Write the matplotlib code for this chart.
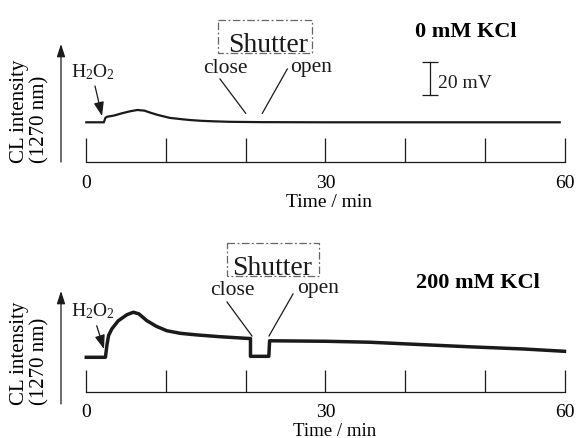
import matplotlib
matplotlib.use('Agg')
import matplotlib.pyplot as plt
import matplotlib.transforms as mtransforms
from matplotlib.patches import Rectangle
from matplotlib.lines import Line2D

# ---------------- data ----------------
major_ticks = [0, 30, 60]
minor_ticks = [10, 20, 40, 50]
panel_titles = ['0 mM KCl', '200 mM KCl']
x_label = 'Time / min'
y_label = 'CL intensity\n(1270 nm)'
scale_bar_mV = 20

# 0 mM KCl trace (time / min, CL signal / mV above baseline)
t_0mM = [0, 2.2, 2.4, 2.6, 3.5, 4.5, 5.5, 6.4, 7.3, 8.0, 9.0, 10.5,
         12.0, 13.0, 14.5, 16.0, 18.0, 20.0, 22.0, 30.0, 40.0, 50.0, 59.4]
cl_0mM = [0, 0, 2.8, 3.4, 4.2, 5.6, 6.8, 7.6, 7.2, 6.0, 4.5, 2.7,
          1.9, 1.4, 0.9, 0.6, 0.3, 0.2, 0.1, 0.0, 0.0, 0.0, 0.0]

# 200 mM KCl trace
t_200mM = [0, 2.4, 2.6, 2.8, 3.2, 4.0, 5.1, 5.9, 6.6, 7.6, 8.8, 10.1,
           11.8, 13.9, 16.8, 20.1, 20.6, 20.6, 22.9, 23.0, 30.0, 35.6,
           40.0, 48.0, 55.0, 60.0]
cl_200mM = [0, 0, 8.0, 13.5, 17.5, 22.5, 26.3, 27.8, 26.8, 22.6, 19.1, 16.4,
            14.8, 13.8, 12.7, 11.7, 11.6, 0.6, 0.6, 10.2, 9.9, 9.3,
            8.3, 6.5, 5.1, 3.7]

# ---------------- style / layout ----------------
W, H = 578, 439
plt.rcParams['font.family'] = ['Liberation Serif', 'DejaVu Serif']
plt.rcParams['mathtext.fontset'] = 'custom'
plt.rcParams['mathtext.rm'] = 'Liberation Serif'
plt.rcParams['mathtext.it'] = 'Liberation Serif:italic'

fig = plt.figure(figsize=(W / 100, H / 100), dpi=100)
pix = mtransforms.Affine2D().scale(1 / W, -1 / H).translate(0, 1) + fig.transFigure

px_per_min = 7.97
px_per_mV = 1.62
x0_px = 86.3
xlim = (-x0_px / px_per_min, (W - x0_px) / px_per_min)

ink = '#1a1a1a'

panels = [
    dict(t=t_0mM, v=cl_0mM, top=0, axis=163.0, base=123.3, lw=1.6, ticklen=17.3,
         arrow=(163, 45), ylab_y=163, title=(466, 37), shutter_txt=(268, 51.7),
         box=(218, 21, 94, 33), close=(225.5, 73.3), open=(311, 71.7),
         close_line=((220, 80), (245.7, 114.3)), open_line=((287.3, 70), (262.3, 114.3)),
         h2o2=(93, 77.7), h2o2_arrow=((95, 87), (102, 117)),
         xlab=(329.5, 206.7), ticklab_pad=8.6, xlab_size=14),
    dict(t=t_200mM, v=cl_200mM, top=225, axis=393.3, base=358.3, lw=2.5, ticklen=16.0,
         arrow=(405, 292), ylab_y=405, title=(477.5, 288), shutter_txt=(272, 275),
         box=(227, 244, 92, 33), close=(232.5, 295), open=(318.5, 293),
         close_line=((227, 303), (252, 337)), open_line=((293, 295), (269, 337)),
         h2o2=(93, 316.7), h2o2_arrow=((96.7, 326.7), (104, 350)),
         xlab=(334.5, 436.0), ticklab_pad=8.0, xlab_size=13.5),
]

for i, p in enumerate(panels):
    hpx = p['axis'] - p['top']
    ax = fig.add_axes([0, (H - p['axis']) / H, 1, hpx / H])
    ax.set_xlim(*xlim)
    ax.set_ylim((p['base'] - p['axis']) / px_per_mV, (p['base'] - p['top']) / px_per_mV)
    ax.patch.set_visible(False)

    ax.plot(p['t'], p['v'], color=ink, lw=p['lw'], solid_joinstyle='round')

    for s in ['top', 'right', 'left']:
        ax.spines[s].set_visible(False)
    ax.spines['bottom'].set_bounds(0, 60)
    ax.spines['bottom'].set_linewidth(0.9)
    ax.spines['bottom'].set_color(ink)
    ax.set_xticks(major_ticks)
    ax.set_xticks(minor_ticks, minor=True)
    ax.set_yticks([])
    ax.tick_params(axis='x', which='both', direction='in', length=p['ticklen'],
                   width=0.9, color=ink, labelsize=14, pad=p['ticklab_pad'])

    ax.set_xlabel(x_label, fontsize=p['xlab_size'])
    ax.xaxis.label.set_verticalalignment('baseline')
    ax.xaxis.set_label_coords(p['xlab'][0] / W, (p['axis'] - p['xlab'][1]) / hpx)

    ax.set_ylabel(y_label, fontsize=15, ha='left', multialignment='left', linespacing=1.05)
    ax.yaxis.set_label_coords(49 / W, (p['axis'] - p['ylab_y']) / hpx)

    # vertical axis arrow
    ax.annotate('', xy=(61, p['arrow'][1]), xytext=(61, p['arrow'][0]),
                xycoords=pix, textcoords=pix,
                arrowprops=dict(arrowstyle='-|>,head_length=0.55,head_width=0.18',
                                lw=0.9, color=ink, mutation_scale=14,
                                shrinkA=0, shrinkB=0))

    # condition title
    ax.text(*p['title'], panel_titles[i], transform=pix, fontsize=16,
            fontweight='bold', ha='center', va='baseline', color='black')

    # shutter box and labels
    bx, by, bw, bh = p['box']
    ax.add_patch(Rectangle((bx, by), bw, bh, transform=pix, fill=False,
                           edgecolor='#666666', lw=0.9, linestyle=(0, (6, 2, 1.5, 2)),
                           clip_on=False))
    ax.text(*p['shutter_txt'], 'Shutter', transform=pix, fontsize=20,
            ha='center', va='baseline', color=ink)
    ax.text(*p['close'], 'close', transform=pix, fontsize=15.5,
            ha='center', va='baseline', color=ink)
    ax.text(*p['open'], 'open', transform=pix, fontsize=15.5,
            ha='center', va='baseline', color=ink)
    for (a, b) in (p['close_line'], p['open_line']):
        ax.add_line(Line2D([a[0], b[0]], [a[1], b[1]], transform=pix,
                           color=ink, lw=0.9, clip_on=False))

    # H2O2 injection
    ax.text(*p['h2o2'], r'H$_\mathregular{2}$O$_\mathregular{2}$', transform=pix,
            fontsize=14, ha='center', va='baseline', color=ink)
    (a, b) = p['h2o2_arrow']
    ax.annotate('', xy=b, xytext=a, xycoords=pix, textcoords=pix,
                arrowprops=dict(arrowstyle='-|>,head_length=0.6,head_width=0.22',
                                lw=0.9, color=ink, mutation_scale=14,
                                shrinkA=0, shrinkB=0))

    if i == 0:
        # 20 mV scale bar (data units)
        t_bar = (430 - x0_px) / px_per_min
        v_bot = (p['base'] - 95.7) / px_per_mV
        ax.plot([t_bar, t_bar], [v_bot, v_bot + scale_bar_mV], color=ink, lw=0.9,
                marker='_', markersize=11, markeredgewidth=0.9)
        ax.text(438, 88, f'{scale_bar_mV} mV', transform=pix, fontsize=14,
                ha='left', va='baseline', color=ink)

fig.savefig('out.png', dpi=100)
